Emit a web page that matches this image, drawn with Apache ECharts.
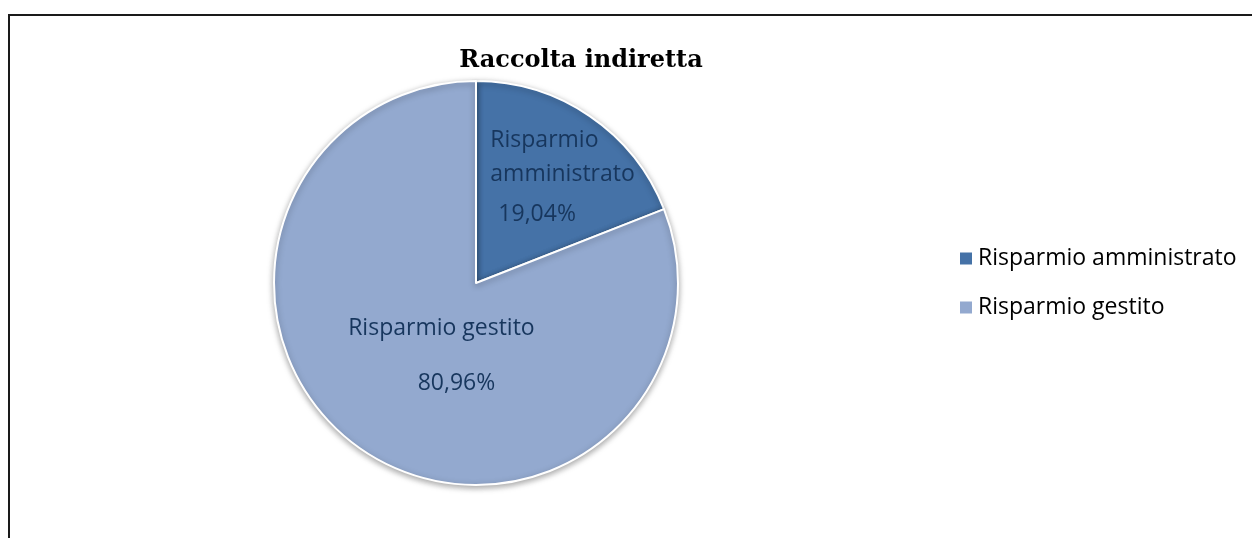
<!DOCTYPE html>
<html>
<head>
<meta charset="utf-8">
<script src="https://cdn.jsdelivr.net/npm/echarts@6/dist/echarts.min.js"></script>
<style>
html,body{margin:0;padding:0;background:#fff;}
#frame{position:absolute;left:8px;top:14px;width:1300px;height:600px;border-left:2px solid #1a1a1a;border-top:2px solid #1a1a1a;}
#chart{position:absolute;left:0;top:0;width:1252px;height:538px;}
</style>
</head>
<body>
<div id="frame"></div>
<div id="chart"></div>
<script>
const titleText = 'Raccolta indiretta';
const categories = ['Risparmio amministrato', 'Risparmio gestito'];
const values = [19.04, 80.96];
const colors = ['#4572A7', '#93A9CF'];

const fmtPct = v => v.toFixed(2).replace('.', ',') + '%';
const FONT = 'Open Sans';
const FS = 23;
const LBL = '#17365D';

const chart = echarts.init(document.getElementById('chart'));
chart.setOption({
  animation: false,
  title: {
    text: titleText,
    left: 581,
    textAlign: 'center',
    top: 49,
    padding: 0,
    textStyle: {fontFamily: 'DejaVu Serif', fontWeight: 'bold', fontSize: 24, color: '#000'}
  },
  legend: {
    orient: 'vertical',
    left: 958,
    top: 247,
    padding: 0,
    itemWidth: 14,
    itemHeight: 14,
    itemGap: 26,
    icon: 'rect',
    data: categories,
    textStyle: {fontFamily: FONT, fontSize: FS, color: '#000'}
  },
  series: [{
    type: 'pie',
    center: [476, 283],
    radius: 202,
    startAngle: 90,
    clockwise: true,
    data: categories.map((c, i) => ({
      name: c, value: values[i],
      itemStyle: {color: colors[i]},
      label: i === 0 ? {
        formatter: p => '{a|Risparmio}\n{a|amministrato}\n{p|' + fmtPct(p.value) + '}',
        align: 'left',
        rich: {
          a: {fontFamily: FONT, fontSize: FS, color: LBL, lineHeight: 34, align: 'left'},
          p: {fontFamily: FONT, fontSize: FS, color: LBL, lineHeight: 46, align: 'left', padding: [0, 0, 0, 8]}
        }
      } : {
        formatter: p => '{a|' + p.name + '}\n{p|' + fmtPct(p.value) + '}',
        rich: {
          a: {fontFamily: FONT, fontSize: FS, color: LBL, lineHeight: 34, align: 'center'},
          p: {fontFamily: FONT, fontSize: FS, color: LBL, lineHeight: 76, align: 'center', padding: [0, 0, 0, 30]}
        }
      }
    })),
    label: {show: true, position: 'inside'},
    labelLine: {show: false},
    labelLayout: function (params) {
      if (params.dataIndex === 0) {
        return {dx: 28, dy: -17};
      }
      return {dx: 24, dy: -2};
    },
    itemStyle: {
      borderColor: '#fff',
      borderWidth: 2,
      shadowBlur: 6,
      shadowColor: 'rgba(0,0,0,0.35)',
      shadowOffsetY: 2
    },
    emphasis: {disabled: true}
  }]
});
</script>
</body>
</html>
